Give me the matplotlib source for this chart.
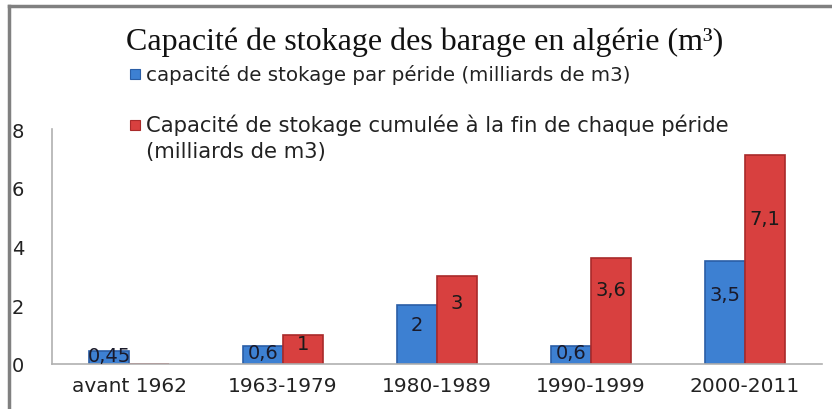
import matplotlib
matplotlib.use("Agg")
import matplotlib.pyplot as plt
import numpy as np
from matplotlib.patches import Rectangle

categories = ["avant 1962", "1963-1979", "1980-1989", "1990-1999", "2000-2011"]
per_period = [0.45, 0.6, 2, 0.6, 3.5]
cumulative = [0, 1, 3, 3.6, 7.1]
per_labels = ["0,45", "0,6", "2", "0,6", "3,5"]
cum_labels = ["", "1", "3", "3,6", "7,1"]
yticks = [0, 2, 4, 6, 8]

title = "Capacité de stokage des barage en algérie (m³)"
leg1 = "capacité de stokage par péride (milliards de m3)"
leg2 = "Capacité de stokage cumulée à la fin de chaque péride\n(milliards de m3)"

font = "DejaVu Sans"
fs = 14
fig = plt.figure(figsize=(8.32, 4.10), dpi=100)
W, H = 832, 410
ax = fig.add_axes([52 / W, 45 / H, 770 / W, 235 / H])

x = np.arange(len(categories))
bw = 0.26
blue, blue_edge = "#3d80d2", "#2a5ea6"
red, red_edge = "#d8403f", "#a92a2a"

b1 = ax.bar(x - bw / 2, per_period, bw, color=blue, edgecolor=blue_edge, linewidth=1.2)
b2 = ax.bar(x + bw / 2, cumulative, bw, color=red, edgecolor=red_edge, linewidth=1.2)

for i in range(len(categories)):
    v = per_period[i]
    ax.text(x[i] - bw / 2, v * 0.68, per_labels[i], ha="center", va="center",
            fontsize=fs, family=font, color="#1a1a2a")
    v = cumulative[i]
    if cum_labels[i]:
        ax.text(x[i] + bw / 2, v * 0.7, cum_labels[i], ha="center", va="center",
                fontsize=fs, family=font, color="#1a1a1a")

ax.set_xlim(-0.5, len(categories) - 0.5)
ax.set_ylim(0, 8)
ax.set_yticks(yticks)
ax.set_yticklabels([str(t) for t in yticks], family=font, fontsize=fs, color="#222222")
ax.set_xticks(x)
ax.set_xticklabels(categories, family=font, fontsize=14.5, color="#222222")
ax.tick_params(axis="y", length=0, pad=20)
ax.tick_params(axis="x", length=0, pad=9)
for s in ["top", "right"]:
    ax.spines[s].set_visible(False)
ax.spines["left"].set_color("#b0b0b0")
ax.spines["bottom"].set_color("#b0b0b0")
ax.spines["left"].set_linewidth(1.2)
ax.spines["bottom"].set_linewidth(1.2)

# title
fig.text(425 / W, 1 - 42 / H, title, ha="center", va="center",
         family="Liberation Serif", fontsize=23, color="#111111")

# legend
fig.patches.append(Rectangle((130 / W, 1 - 80 / H), 10 / W, 10 / H, transform=fig.transFigure,
                             facecolor=blue, edgecolor=blue_edge, linewidth=0.8))
fig.text(146 / W, 1 - 75 / H, leg1, ha="left", va="center", family=font, fontsize=14.3, color="#222222")
fig.patches.append(Rectangle((130 / W, 1 - 131 / H), 10 / W, 10 / H, transform=fig.transFigure,
                             facecolor=red, edgecolor=red_edge, linewidth=0.8))
fig.text(146 / W, 1 - 115 / H, leg2, ha="left", va="top", family=font, fontsize=15.2, color="#222222",
         linespacing=1.32)

# outer frame (left/top)
fig.add_artist(plt.Line2D([9 / W, 9 / W], [0, 1 - 7 / H], transform=fig.transFigure,
                          color="#808080", linewidth=2.5))
fig.add_artist(plt.Line2D([9 / W, 1], [1 - 7 / H, 1 - 7 / H], transform=fig.transFigure,
                          color="#808080", linewidth=2.5))

fig.savefig("out.png", dpi=100)
